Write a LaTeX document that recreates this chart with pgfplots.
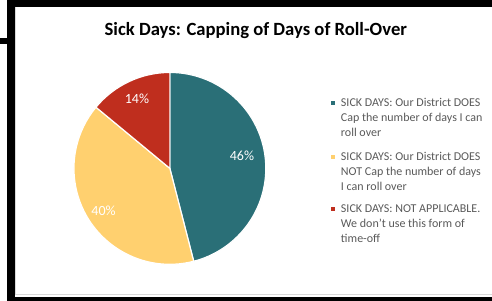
\documentclass[border=0pt]{standalone}
\usepackage{fontspec}
\setmainfont{Carlito}
\usepackage{pgfplots}
\usepackage{pgfplotstable}
\usetikzlibrary{calc}
\pgfplotsset{compat=1.18}
\definecolor{cteal}{RGB}{42,111,119}
\definecolor{cyel}{RGB}{255,208,111}
\definecolor{cred}{RGB}{191,46,30}
\definecolor{cgray}{RGB}{217,217,217}
\definecolor{ctext}{RGB}{89,89,89}
\pgfplotstableread{
share
46
40
14
}\piedata
\pgfplotstablegetelem{0}{share}\of\piedata \let\vA\pgfplotsretval
\pgfplotstablegetelem{1}{share}\of\piedata \let\vB\pgfplotsretval
\pgfplotstablegetelem{2}{share}\of\piedata \let\vC\pgfplotsretval
\pgfmathsetmacro\aA{90}
\pgfmathsetmacro\aB{\aA-3.6*\vA}
\pgfmathsetmacro\aC{\aB-3.6*\vB}
\pgfmathsetmacro\aD{\aC-3.6*\vC}
\pgfmathsetmacro\mA{(\aA+\aB)/2}
\pgfmathsetmacro\mB{(\aB+\aC)/2}
\pgfmathsetmacro\mC{(\aC+\aD)/2}
\begin{document}
\begin{tikzpicture}
\begin{axis}[hide axis, scale only axis, clip=false,
  x=0.75pt, y=0.75pt, xmin=0, xmax=492, ymin=0, ymax=301]
% frame
\fill[black] (axis cs:7,0) rectangle (axis cs:15,300);
\fill[black] (axis cs:7,294) rectangle (axis cs:492,301);
\fill[black] (axis cs:7,0) rectangle (axis cs:492,4);
\fill[black] (axis cs:0,257) rectangle (axis cs:7,263);
\fill[black] (axis cs:178,300) rectangle (axis cs:183,301);
\draw[cgray, line width=0.6pt] (axis cs:15.5,294) -- (axis cs:15.5,6) -- (axis cs:492,6);
% title
\node[anchor=base, font=\fontsize{14}{16}\selectfont\bfseries, text=black] at (axis cs:256,265) {Sick Days: Capping of Days of Roll-Over};
% pie
\fill[cteal, draw=white, line width=0.9pt] (axis cs:170,132.5) -- ++(\aA:72pt) arc[start angle=\aA, end angle=\aB, radius=72pt] -- cycle;
\fill[cyel, draw=white, line width=0.9pt] (axis cs:170,132.5) -- ++(\aB:72pt) arc[start angle=\aB, end angle=\aC, radius=72pt] -- cycle;
\fill[cred, draw=white, line width=0.9pt] (axis cs:170,132.5) -- ++(\aC:72pt) arc[start angle=\aC, end angle=\aD, radius=72pt] -- cycle;
\node[text=white, font=\fontsize{10.5}{12}\selectfont] at ($(axis cs:170,132.5)+(\mA+3:55pt)$) {\vA\%};
\node[text=white, font=\fontsize{10.5}{12}\selectfont] at ($(axis cs:170,132.5)+(\mB:59pt)$) {\vB\%};
\node[text=white, font=\fontsize{10.5}{12}\selectfont] at ($(axis cs:170,132.5)+(\mC:58pt)$) {\vC\%};
% legend
\fill[cteal] (axis cs:331,196) rectangle (axis cs:335,200);
\fill[cyel] (axis cs:331,142) rectangle (axis cs:335,146);
\fill[cred] (axis cs:331,90) rectangle (axis cs:335,94);
\begin{scope}[every node/.style={anchor=base west, inner sep=0pt, text=ctext, font=\fontsize{9}{11}\selectfont}]
\node at (axis cs:341,194) {SICK DAYS: Our District DOES};
\node at (axis cs:341,179) {Cap the number of days I can};
\node at (axis cs:341,164) {roll over};
\node at (axis cs:341,140) {SICK DAYS: Our District DOES};
\node at (axis cs:341,125) {NOT Cap the number of days};
\node at (axis cs:341,110) {I can roll over};
\node at (axis cs:341,88) {SICK DAYS: NOT APPLICABLE.};
\node at (axis cs:341,73) {We don't use this form of};
\node at (axis cs:341,58) {time-off};
\end{scope}
\end{axis}
\end{tikzpicture}
\end{document}
